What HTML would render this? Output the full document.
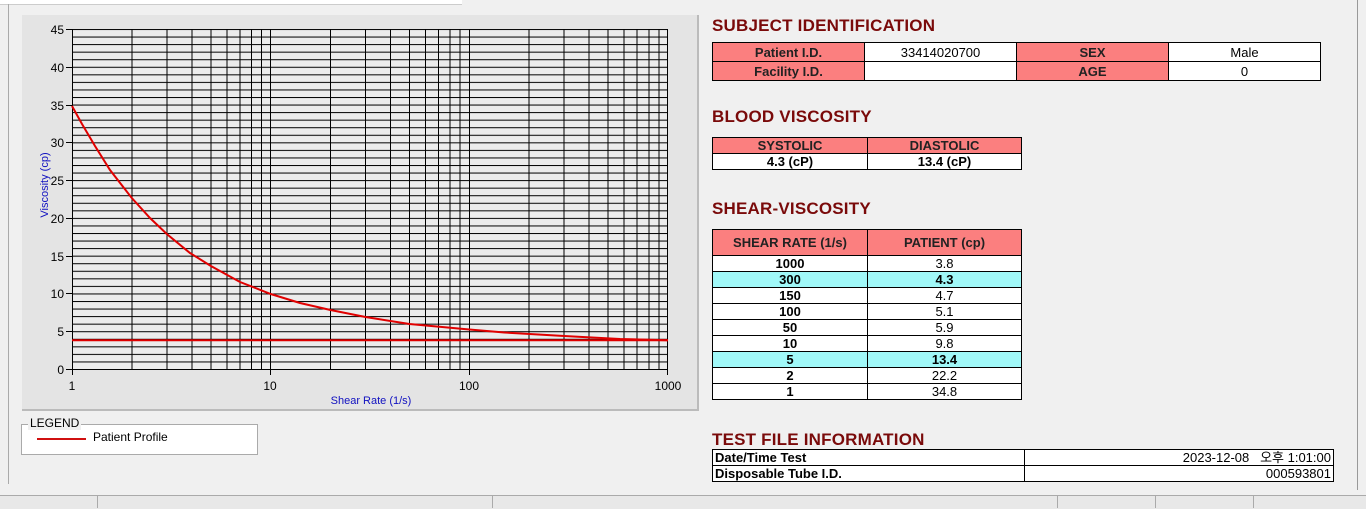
<!DOCTYPE html>
<html><head><meta charset="utf-8"><style>
body{margin:0;width:1366px;height:508px;background:#f0f0f0;position:relative;overflow:hidden;font-family:"Liberation Sans","Noto Sans CJK KR",sans-serif}
.a{position:absolute}
h2{position:absolute;margin:0;font-size:17px;font-weight:bold;color:#7a0a0a;letter-spacing:0.2px}
table{position:absolute;border-collapse:collapse;font-size:13px}
td{border:1px solid #000;text-align:center;padding:0;line-height:15px;height:15px}
.t1 td{height:18px}
.p{background:#fb7f7f;font-weight:bold;color:#222}
.w{background:#fff}
.c{background:#a0f8f8;font-weight:bold}
.b{font-weight:bold}
</style></head><body>
<div class="a" style="left:0;top:0;width:462px;height:4px;background:#fff;border-bottom:1px solid #ccc"></div>
<div class="a" style="left:8px;top:4px;width:1px;height:480px;background:#aaa"></div>
<div class="a" style="left:22px;top:15px;width:675px;height:394px;background:#e4e4e4;border-right:2px solid #bbb;border-bottom:2px solid #bbb"></div>
<svg class="a" style="left:0;top:0" width="700" height="412">
<defs><pattern id="h" x="0" y="29" width="10" height="7.5556" patternUnits="userSpaceOnUse"><line x1="0" y1="0.5" x2="10" y2="0.5" stroke="#000" stroke-width="1"/></pattern></defs>
<rect x="72" y="29" width="596" height="340" fill="#ececec"/>
<rect x="72" y="29" width="596" height="340" fill="url(#h)"/>
<g stroke="#000" stroke-width="1">
<line x1="72.5" y1="29" x2="72.5" y2="369"/><line x1="270.5" y1="29" x2="270.5" y2="369"/><line x1="469.5" y1="29" x2="469.5" y2="369"/><line x1="667.5" y1="29" x2="667.5" y2="369"/>
<line x1="132" y1="29" x2="132" y2="369"/><line x1="167" y1="29" x2="167" y2="369"/><line x1="192" y1="29" x2="192" y2="369"/><line x1="211" y1="29" x2="211" y2="369"/><line x1="227" y1="29" x2="227" y2="369"/><line x1="240" y1="29" x2="240" y2="369"/><line x1="251.5" y1="29" x2="251.5" y2="369"/><line x1="261.5" y1="29" x2="261.5" y2="369"/>
<line x1="330.5" y1="29" x2="330.5" y2="369"/><line x1="365.5" y1="29" x2="365.5" y2="369"/><line x1="390.5" y1="29" x2="390.5" y2="369"/><line x1="409.5" y1="29" x2="409.5" y2="369"/><line x1="425.5" y1="29" x2="425.5" y2="369"/><line x1="438.5" y1="29" x2="438.5" y2="369"/><line x1="450" y1="29" x2="450" y2="369"/><line x1="460" y1="29" x2="460" y2="369"/>
<line x1="529" y1="29" x2="529" y2="369"/><line x1="564" y1="29" x2="564" y2="369"/><line x1="589" y1="29" x2="589" y2="369"/><line x1="608" y1="29" x2="608" y2="369"/><line x1="624" y1="29" x2="624" y2="369"/><line x1="637" y1="29" x2="637" y2="369"/><line x1="649" y1="29" x2="649" y2="369"/><line x1="659" y1="29" x2="659" y2="369"/>
<line x1="72" y1="369.5" x2="668" y2="369.5"/>
<line x1="66" y1="29.5" x2="72" y2="29.5"/><line x1="66" y1="67.5" x2="72" y2="67.5"/><line x1="66" y1="105.5" x2="72" y2="105.5"/><line x1="66" y1="142.5" x2="72" y2="142.5"/><line x1="66" y1="180.5" x2="72" y2="180.5"/><line x1="66" y1="218.5" x2="72" y2="218.5"/><line x1="66" y1="256.5" x2="72" y2="256.5"/><line x1="66" y1="293.5" x2="72" y2="293.5"/><line x1="66" y1="331.5" x2="72" y2="331.5"/><line x1="66" y1="369.5" x2="72" y2="369.5"/>
<line x1="72.5" y1="369" x2="72.5" y2="375"/><line x1="270.5" y1="369" x2="270.5" y2="375"/><line x1="469.5" y1="369" x2="469.5" y2="375"/><line x1="667.5" y1="369" x2="667.5" y2="375"/>
</g>
<g font-family="Liberation Sans,sans-serif" font-size="12" fill="#000" text-anchor="end">
<text x="64" y="34">45</text><text x="64" y="72">40</text><text x="64" y="110">35</text><text x="64" y="147">30</text><text x="64" y="185">25</text><text x="64" y="223">20</text><text x="64" y="261">15</text><text x="64" y="298">10</text><text x="64" y="336">5</text><text x="64" y="374">0</text>
</g>
<g font-family="Liberation Sans,sans-serif" font-size="12" fill="#000" text-anchor="middle">
<text x="72" y="390">1</text><text x="270" y="390">10</text><text x="469" y="390">100</text><text x="668" y="390">1000</text>
</g>
<text x="371" y="404" font-family="Liberation Sans,sans-serif" font-size="11" fill="#1010c0" text-anchor="middle">Shear Rate (1/s)</text>
<text transform="translate(48,185) rotate(-90)" font-family="Liberation Sans,sans-serif" font-size="11" fill="#1010c0" text-anchor="middle">Viscosity (cp)</text>
<line x1="72" y1="340.3" x2="668" y2="340.3" stroke="#e00000" stroke-width="2"/>
<polyline fill="none" stroke="#e00000" stroke-width="2" points="72,106 82,124 95,146 110,170 131.8,198 150,218 166.8,234 190,253 210.9,266 240,282 270.7,294 300,303 330.5,310 365.5,317 409.5,324 469.3,329.5 504.3,332.5 564.1,336 620,339 668,340.3"/>
</svg>
<div class="a" style="left:21px;top:424px;width:235px;height:29px;background:#fff;border:1px solid #aaa"></div>
<div class="a" style="left:28px;top:416px;background:#f0f0f0;font-size:12px;padding:0 2px">LEGEND</div>
<div class="a" style="left:37px;top:438px;width:49px;height:2px;background:#d01010"></div>
<div class="a" style="left:93px;top:430px;font-size:12px">Patient Profile</div>

<h2 style="left:712px;top:16px">SUBJECT IDENTIFICATION</h2>
<table class="t1" style="left:712px;top:42px;width:609px">
<tr><td class="p" style="width:151px">Patient I.D.</td><td class="w" style="width:151px">33414020700</td><td class="p" style="width:151px">SEX</td><td class="w">Male</td></tr>
<tr><td class="p">Facility I.D.</td><td class="w"></td><td class="p">AGE</td><td class="w">0</td></tr>
</table>
<h2 style="left:712px;top:107px">BLOOD VISCOSITY</h2>
<table style="left:712px;top:137px;width:310px">
<tr><td class="p" style="width:154px">SYSTOLIC</td><td class="p">DIASTOLIC</td></tr>
<tr><td class="w b">4.3 (cP)</td><td class="w b">13.4 (cP)</td></tr>
</table>
<h2 style="left:712px;top:199px">SHEAR-VISCOSITY</h2>
<table style="left:712px;top:229px;width:310px">
<tr><td class="p" style="width:154px;height:25px">SHEAR RATE (1/s)</td><td class="p">PATIENT (cp)</td></tr>
<tr><td class="w b">1000</td><td class="w">3.8</td></tr>
<tr><td class="c">300</td><td class="c">4.3</td></tr>
<tr><td class="w b">150</td><td class="w">4.7</td></tr>
<tr><td class="w b">100</td><td class="w">5.1</td></tr>
<tr><td class="w b">50</td><td class="w">5.9</td></tr>
<tr><td class="w b">10</td><td class="w">9.8</td></tr>
<tr><td class="c">5</td><td class="c">13.4</td></tr>
<tr><td class="w b">2</td><td class="w">22.2</td></tr>
<tr><td class="w b">1</td><td class="w">34.8</td></tr>
</table>
<h2 style="left:712px;top:430px">TEST FILE INFORMATION</h2>
<table style="left:712px;top:449px;width:622px">
<tr><td class="w b" style="width:309px;text-align:left;padding-left:2px">Date/Time Test</td><td class="w" style="text-align:right;padding-right:2px">2023-12-08&nbsp;&nbsp; 오후 1:01:00</td></tr>
<tr><td class="w b" style="text-align:left;padding-left:2px">Disposable Tube I.D.</td><td class="w" style="text-align:right;padding-right:2px">000593801</td></tr>
</table>
<div class="a" style="left:1357px;top:0;width:1px;height:490px;background:#999"></div>
<div class="a" style="left:0;top:495px;width:1366px;height:13px;background:#e8e8e8;border-top:1px solid #aaa"></div>
<div class="a" style="left:97px;top:496px;width:1px;height:12px;background:#aaa"></div>
<div class="a" style="left:492px;top:496px;width:1px;height:12px;background:#aaa"></div>
<div class="a" style="left:1057px;top:496px;width:1px;height:12px;background:#aaa"></div>
<div class="a" style="left:1155px;top:496px;width:1px;height:12px;background:#aaa"></div>
<div class="a" style="left:1253px;top:496px;width:1px;height:12px;background:#aaa"></div>
</body></html>
